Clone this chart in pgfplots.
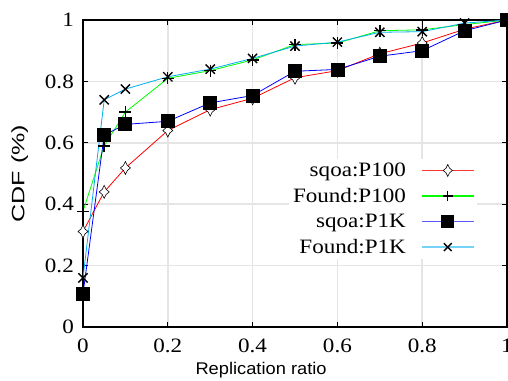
\documentclass[border=0pt]{standalone}
\usepackage{graphicx}
\usepackage{pgfplots}
\pgfplotsset{compat=1.18}
\usepackage{fontspec}
\setmainfont{Liberation Serif}
\newfontfamily\sansf{Liberation Sans}
\newcommand\sx[1]{\scalebox{1.13}[1]{#1}}
\pgfdeclareplotmark{star4}{%
  \pgfpathmoveto{\pgfqpoint{0pt}{1.3\pgfplotmarksize}}%
  \pgfpathquadraticcurveto{\pgfqpoint{0.28\pgfplotmarksize}{0.38\pgfplotmarksize}}{\pgfqpoint{\pgfplotmarksize}{0pt}}%
  \pgfpathquadraticcurveto{\pgfqpoint{0.28\pgfplotmarksize}{-0.38\pgfplotmarksize}}{\pgfqpoint{0pt}{-1.3\pgfplotmarksize}}%
  \pgfpathquadraticcurveto{\pgfqpoint{-0.28\pgfplotmarksize}{-0.38\pgfplotmarksize}}{\pgfqpoint{-\pgfplotmarksize}{0pt}}%
  \pgfpathquadraticcurveto{\pgfqpoint{-0.28\pgfplotmarksize}{0.38\pgfplotmarksize}}{\pgfqpoint{0pt}{1.3\pgfplotmarksize}}%
  \pgfpathclose
  \pgfusepathqfillstroke}
\begin{document}
\begin{tikzpicture}
\useasboundingbox (-83bp,-54bp) rectangle (425bp,327bp);
\begin{axis}[
  scale only axis,
  width=424bp, height=307bp,
  xmin=0, xmax=1, ymin=0, ymax=1,
  xtick={0,0.2,0.4,0.6,0.8,1},
  ytick={0,0.2,0.4,0.6,0.8,1},
  xticklabels={\sx{0},\sx{0.2},\sx{0.4},\sx{0.6},\sx{0.8},\sx{1}},
  yticklabels={\sx{0},\sx{0.2},\sx{0.4},\sx{0.6},\sx{0.8},\sx{1}},
  axis line style={line width=1.6bp},
  tick style={line width=1.2bp, black},
  tick align=inside,
  major tick length=5bp,
  grid=major,
  grid style={line width=1.5bp, gray!20},
  tick label style={font=\fontsize{20.5}{20.5}\selectfont},
  yticklabel style={inner sep=0pt, xshift=-9bp},
  xticklabel style={inner sep=0pt, yshift=-12bp},
  xlabel={\sansf\scalebox{1.08}[1]{Replication ratio}},
  ylabel={\sansf\scalebox{1.4}[1]{CDF (\%)}},
  xlabel style={font=\fontsize{17}{17}\selectfont, at={(axis description cs:0.42,-0.14)}, anchor=center},
  ylabel style={font=\fontsize{18}{18}\selectfont, at={(axis description cs:-0.149,0.5)}, anchor=center},
  legend plot pos=right,
  legend cell align=right,
  legend style={at={(axis description cs:0.929,0.548)}, anchor=north east, draw=none, fill=white,
    font=\fontsize{20.5}{20.5}\selectfont, row sep=6.2bp, inner sep=2bp,
    /tikz/every odd column/.append style={column sep=13bp}},
]
\addplot[red, line width=0.8bp, mark=star4, mark size=5bp, mark options={fill=white, draw=black, line width=0.6bp},
  legend image code/.code={\draw[red!80, line width=1.8bp] (0bp,0bp) -- (52bp,0bp);
    \draw[draw=black, fill=white, line width=0.6bp] plot[mark=star4, mark size=4.6bp, only marks] coordinates {(26bp,0bp)};}]
coordinates {(0,0.311) (0.05,0.44) (0.1,0.518) (0.2,0.64) (0.3,0.708) (0.4,0.745) (0.5,0.812) (0.6,0.835) (0.7,0.89) (0.8,0.925) (0.9,0.97) (1,1)};
\addlegendentry{\sx{sqoa:P100}}
\addplot[green, line width=0.8bp, mark=+, mark size=6bp, mark options={draw=black, line width=1.4bp},
  legend image code/.code={\draw[green, line width=1.8bp] (0bp,0bp) -- (52bp,0bp);
    \draw[draw=black, line width=1.4bp] plot[mark=+, mark size=5bp, only marks] coordinates {(26bp,0bp)};}]
coordinates {(0,0.377) (0.05,0.59) (0.1,0.70) (0.2,0.81) (0.3,0.835) (0.4,0.87) (0.5,0.92) (0.6,0.925) (0.7,0.965) (0.8,0.968) (0.9,0.985) (1,1)};
\addlegendentry{\sx{Found:P100}}
\addplot[blue, line width=0.8bp, mark=square*, mark size=6.5bp, mark options={fill=black, draw=black},
  legend image code/.code={\draw[blue!65, line width=1.8bp] (0bp,0bp) -- (20bp,0bp) (32bp,0bp) -- (52bp,0bp);
    \fill[black] (20bp,-6bp) rectangle (32bp,6bp);}]
coordinates {(0,0.108) (0.05,0.625) (0.1,0.66) (0.2,0.67) (0.3,0.73) (0.4,0.754) (0.5,0.833) (0.6,0.839) (0.7,0.882) (0.8,0.90) (0.9,0.965) (1,1)};
\addlegendentry{\sx{sqoa:P1K}}
\addplot[cyan, line width=0.8bp, mark=x, mark size=6.5bp, mark options={draw=black, line width=1.4bp},
  legend image code/.code={\draw[cyan!55, line width=1.8bp] (0bp,0bp) -- (52bp,0bp);
    \draw[draw=black, line width=1.4bp] plot[mark=x, mark size=5.5bp, only marks] coordinates {(26bp,0bp)};}]
coordinates {(0,0.16) (0.05,0.74) (0.1,0.775) (0.2,0.815) (0.3,0.84) (0.4,0.875) (0.5,0.915) (0.6,0.928) (0.7,0.96) (0.8,0.962) (0.9,0.99) (1,1)};
\addlegendentry{\sx{Found:P1K}}
\end{axis}
\end{tikzpicture}
\end{document}
